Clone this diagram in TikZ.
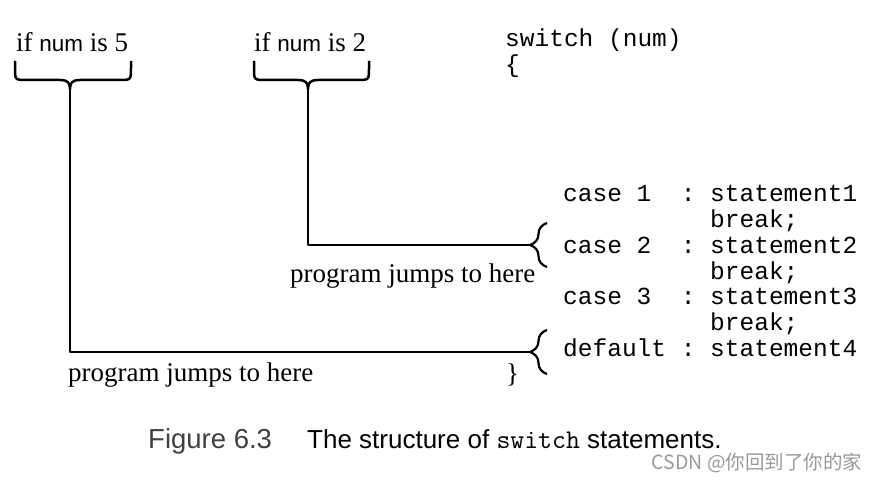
\documentclass[tikz,border=0pt]{standalone}
\usepackage{fontspec}
\setmainfont{Liberation Serif}
\setsansfont{Liberation Sans}
\setmonofont{Liberation Mono}
\newfontfamily\cjk{Noto Sans CJK SC}
\usetikzlibrary{calc,decorations.pathreplacing}

\begin{document}
\begin{tikzpicture}[
  x=1pt, y=-1pt,
  line/.style={line width=2.5pt, line join=round},
  lbrace/.style={line width=2.2pt, decorate, decoration={brace, amplitude=17pt}},
  note/.style={inner sep=0pt, anchor=base west, font=\fontsize{27}{30}\selectfont},
  code/.style={inner sep=0pt, anchor=base west, font=\ttfamily\fontsize{24.5}{25.8}\selectfont},
  figcap/.style={inner sep=0pt, anchor=base west, font=\sffamily\fontsize{26}{30}\selectfont}
]
\useasboundingbox (0,0) rectangle (878,481);

% ---------- conditions ----------
\node[note] (if5) at (16,51.7) {if {\sffamily\fontsize{22.5}{26}\selectfont num} is 5};
\node[note] (if2) at (254,51.7) {if {\sffamily\fontsize{22.5}{26}\selectfont num} is 2};

\foreach \n/\l/\m/\r in {five/15/70/131, two/254/308/369}{
  \draw[line] (\l,61) -- (\l,68) .. controls (\l,80) .. (\l+12,80) -- (\m-10,80)
     .. controls (\m-2,80) and (\m,83) .. (\m,89)
     .. controls (\m,83) and (\m+2,80) .. (\m+10,80) -- (\r-12,80)
     .. controls (\r,80) .. (\r,68) -- (\r,61);
  \coordinate (tip\n) at (\m,89);
}

% ---------- switch body ----------
\node[code] (sw) at (505,46.7) {switch~(num)};
\node[code] (open) at (505,72.5) {\{};
\foreach \k/\txt in {0/{case~1~~:~statement1}, 1/{~~~~~~~~~~break;},
    2/{case~2~~:~statement2}, 3/{~~~~~~~~~~break;},
    4/{case~3~~:~statement3}, 5/{~~~~~~~~~~break;},
    6/{default~:~statement4}}
  \node[code] (row\k) at (563,201.7+25.8*\k) {\txt};
\node[note] (close) at (506,382) {\}};

% ---------- jumps ----------
\coordinate (jtwo) at (530,245);
\coordinate (jdef) at (530,352);
\draw[lbrace] ($(jtwo)+(17,22)$) -- ($(jtwo)+(17,-22)$);
\draw[lbrace] ($(jdef)+(17,22)$) -- ($(jdef)+(17,-22)$);

\draw[line] (tiptwo) |- (jtwo);
\draw[line] (tipfive) |- (jdef);

\node[note] (jmp2) at (290,282.7) {program jumps to here};
\node[note] (jmp5) at (68,381.7) {program jumps to here};

% ---------- caption ----------
\node[figcap, text=black!75, font=\sffamily\fontsize{27.5}{30}\selectfont] (figno) at (148,448.3) {Figure 6.3};
\node[figcap] (figtxt) at (307,448.3) {The structure of {\fontfamily{lmtt}\fontsize{27}{30}\selectfont switch} statements.};
\node[inner sep=0pt, anchor=base west, text=black!40, font=\cjk\fontsize{19.5}{22}\selectfont] (mark) at (651.7,469.3) {CSDN @你回到了你的家};

\end{tikzpicture}
\end{document}
